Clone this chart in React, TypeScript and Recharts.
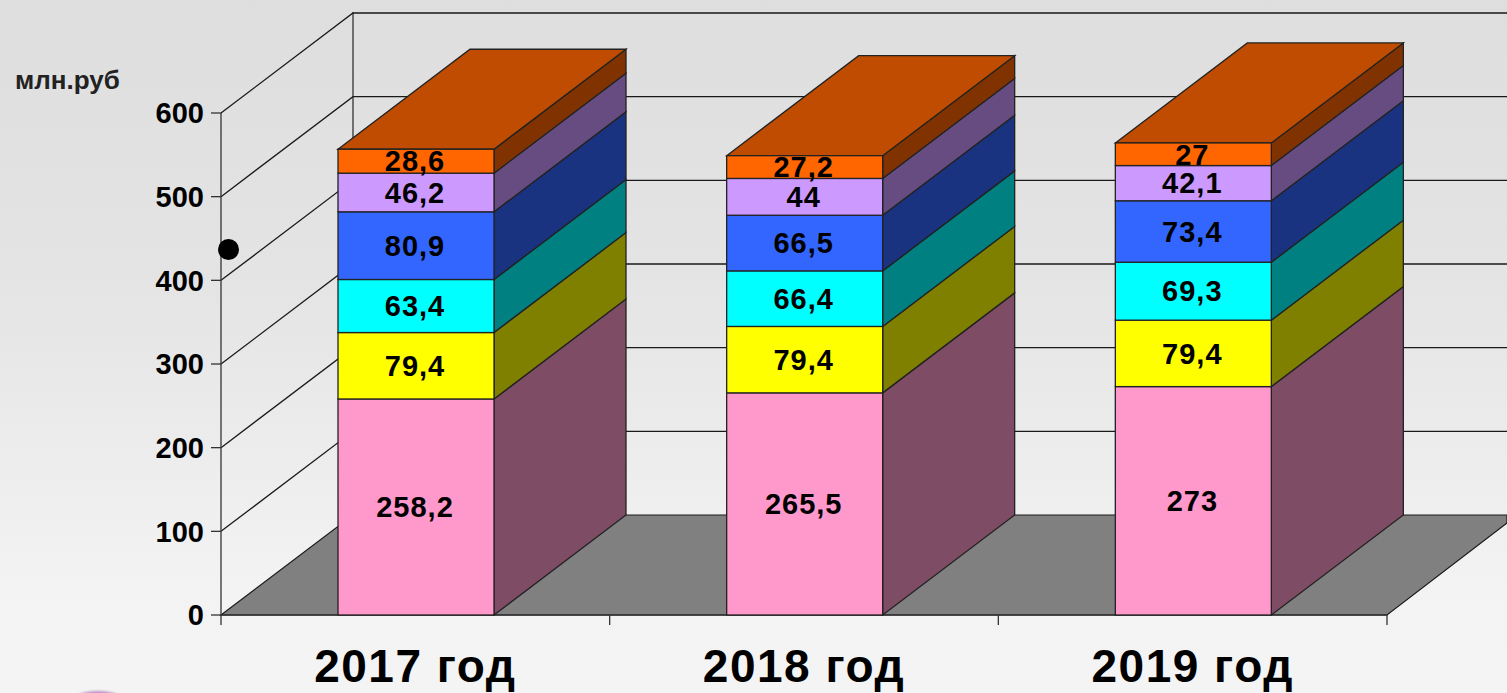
import React from "react";
import { BarChart, Bar, XAxis, YAxis, LabelList, ReferenceLine } from "recharts";

const categories = ["2017 год", "2018 год", "2019 год"];
const rent = [258.2, 265.5, 273];
const yellowSeries = [79.4, 79.4, 79.4];
const cyanSeries = [63.4, 66.4, 69.3];
const blueSeries = [80.9, 66.5, 73.4];
const violetSeries = [46.2, 44, 42.1];
const orangeSeries = [28.6, 27.2, 27];
const yTicks = [0, 100, 200, 300, 400, 500, 600];

const seriesDefs = [
  { key: "a", values: rent, front: "#FF99CC", side: "#7F4C66" },
  { key: "b", values: yellowSeries, front: "#FFFF00", side: "#808000" },
  { key: "c", values: cyanSeries, front: "#00FFFF", side: "#008080" },
  { key: "d", values: blueSeries, front: "#3366FF", side: "#1A3380" },
  { key: "e", values: violetSeries, front: "#CC99FF", side: "#664C80" },
  { key: "f", values: orangeSeries, front: "#FF6600", side: "#803300", top: "#BF4C00" },
];

const data = categories.map((name, i) => {
  const row: Record<string, string | number> = { name };
  seriesDefs.forEach((s) => { row[s.key] = s.values[i]; });
  return row;
});

const DX = 132;
const DY = -100;
const LINE = "#222";
const FONT = "'Liberation Sans', Arial, sans-serif";
const MARGIN = { top: 113, right: 120, bottom: 0, left: 0 };

const Box3D = (p: any, side: string, top?: string) => {
  const { y, width: w, height: h, fill } = p;
  const x = p.x + 1;
  return (
    <g>
      <polygon points={`${x + w},${y} ${x + w + DX},${y + DY} ${x + w + DX},${y + h + DY} ${x + w},${y + h}`} fill={side} stroke={LINE} strokeWidth={1.3} />
      {top && <polygon points={`${x},${y} ${x + DX},${y + DY} ${x + w + DX},${y + DY} ${x + w},${y}`} fill={top} stroke={LINE} strokeWidth={1.3} />}
      <rect x={x} y={y} width={w} height={h} fill={fill} stroke={LINE} strokeWidth={1.3} />
    </g>
  );
};

const GridShape = (p: any) => {
  const { x1, y1 } = p;
  return <polyline points={`${x1},${y1} ${x1 + DX},${y1 + DY} 1507,${y1 + DY}`} fill="none" stroke="#1a1a1a" strokeWidth={1.3} />;
};

const FloorShape = (p: any) => {
  const { x1, y1, x2 } = p;
  const step = (x2 - x1) / categories.length;
  return (
    <g>
      <polygon points={`${x1},${y1} ${x1 + DX},${y1 + DY} 1507,${y1 + DY} 1507,${y1 + DY + 8} ${x2},${y1}`} fill="#808080" stroke="#1a1a1a" strokeWidth={1.2} />
      <line x1={x1 + DX} y1={y1 + DY} x2={x1 + DX} y2={y1 + DY - 503} stroke="#333" strokeWidth={1.3} />
      <line x1={x1} y1={y1} x2={x2} y2={y1} stroke="#333" strokeWidth={1.5} />
      {categories.map((_, i) => i).concat(categories.length).map((i) => (
        <line key={i} x1={x1 + i * step} y1={y1} x2={x1 + i * step} y2={y1 + 10} stroke="#333" strokeWidth={1.3} />
      ))}
    </g>
  );
};

const fmt = (v: any) => String(v).replace(".", ",");

export default function App() {
  return (
    <div style={{ position: "absolute", left: 0, top: 0, width: 1507, height: 693, overflow: "hidden", background: "linear-gradient(180deg,#dedede 0%,#e4e4e4 40%,#f3f3f3 85%,#f4f4f4 100%)" }}>
      <div style={{ position: "absolute", left: 0, top: 0 }}>
        <BarChart width={1507} height={693} data={data} margin={MARGIN} barSize={156}>
          <XAxis dataKey="name" height={78} axisLine={false} tickLine={false} interval={0}
            tick={{ fontFamily: FONT, fontWeight: 700, fontSize: 46, fill: "#000", letterSpacing: 1.5 }} tickMargin={28} />
          <YAxis width={221} domain={[0, 600]} ticks={yTicks} axisLine={{ stroke: "#333", strokeWidth: 1.3 }}
            tickLine={{ stroke: "#333", strokeWidth: 1.3 }} tickSize={10} tickMargin={7}
            tick={{ fontFamily: FONT, fontWeight: 700, fontSize: 29, fill: "#000" }} />
          <Bar dataKey="a" stackId="s" isAnimationActive={false} shape={() => null} />
          <ReferenceLine y={0} ifOverflow="visible" shape={FloorShape} />
          {yTicks.slice(1).map((v) => (
            <ReferenceLine key={v} y={v} ifOverflow="visible" shape={GridShape} />
          ))}
        </BarChart>
      </div>
      <div style={{ position: "absolute", left: 0, top: 0 }}>
        <BarChart width={1507} height={693} data={data} margin={MARGIN} barSize={156}>
          <XAxis dataKey="name" height={78} axisLine={false} tickLine={false} tick={false} />
          <YAxis width={221} domain={[0, 600]} ticks={yTicks} axisLine={false} tickLine={false} tick={false} />
          {seriesDefs.map((s) => (
            <Bar key={s.key} dataKey={s.key} stackId="s" fill={s.front} isAnimationActive={false}
              shape={(p: any) => Box3D(p, s.side, s.top)}>
              <LabelList dataKey={s.key} position="center" formatter={fmt}
                style={{ fontFamily: FONT, fontWeight: 700, fontSize: 29, fill: "#000", letterSpacing: 1 }} />
            </Bar>
          ))}
        </BarChart>
      </div>
      <div style={{ position: "absolute", left: 15, top: 66, fontFamily: FONT, fontWeight: 700, fontSize: 26, lineHeight: "28px", color: "#222", whiteSpace: "nowrap" }}>млн.руб</div>
      <div style={{ position: "absolute", left: 218, top: 239, width: 21, height: 21, borderRadius: "50%", background: "#000" }} />
      <div style={{ position: "absolute", left: 72, top: 691, width: 52, height: 20, borderRadius: "50%", background: "#c090c8", filter: "blur(1px)" }} />
    </div>
  );
}
